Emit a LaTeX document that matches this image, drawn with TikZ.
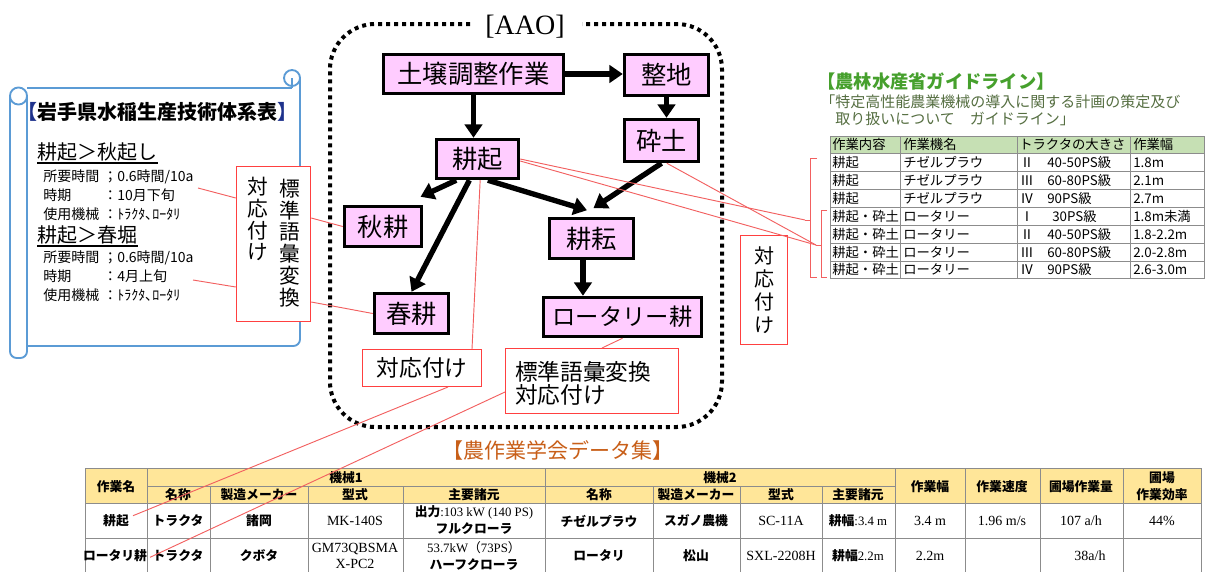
\documentclass[tikz,border=0pt]{standalone}
\usepackage{fontspec}
\setmainfont{Noto Sans CJK JP}
\newfontfamily\tms{Liberation Serif}
\usetikzlibrary{arrows.meta}
\definecolor{nodepink}{RGB}{255,204,255}
\definecolor{redline}{RGB}{242,96,96}
\definecolor{redbox}{RGB}{255,64,64}
\definecolor{scrollblue}{RGB}{91,155,213}
\definecolor{ggreen}{RGB}{70,160,45}
\definecolor{gsub}{RGB}{85,110,65}
\definecolor{hdrgreen}{RGB}{198,224,180}
\definecolor{hdryellow}{RGB}{255,230,153}
\definecolor{otitle}{RGB}{200,95,25}
\definecolor{gridgray}{RGB}{140,140,140}
\definecolor{navy}{RGB}{30,50,140}
\begin{document}
\begin{tikzpicture}[x=0.75pt,y=-0.75pt,
  fs/.style={font=\fontsize{#1pt}{#1pt}\selectfont, text height=0.88*#1pt, text depth=0.12*#1pt, inner sep=0pt},
  proc/.style={draw=black, line width=2.6pt, fill=nodepink, inner sep=0pt, fs=19},
  flow/.style={line width=4pt, -{Triangle[width=13pt,length=10pt]}},
  rl/.style={draw=redline, line width=0.7pt},
  rbox/.style={draw=redbox, line width=1.1pt, fill=white, inner sep=0pt},
  scroll/.style={draw=scrollblue, line width=1.4pt},
  dotframe/.style={line width=3pt, dash pattern=on 3pt off 3pt, rounded corners=34pt},
  vt/.style={font=\fontsize{15.5pt}{16.4pt}\selectfont, align=center, inner sep=0pt},
  grid/.style={draw=gridgray, line width=0.6pt},
  tt/.style={fs=10},
  bt/.style={font=\bfseries\fontsize{9.6pt}{12.5pt}\selectfont, inner sep=0pt, align=center},
  st/.style={font=\tms\fontsize{10.5pt}{12.5pt}\selectfont, inner sep=0pt, align=center}
]
\useasboundingbox (0,0) rectangle (1206,572);

% ---------- left scroll panel ----------
\draw[scroll] (27,88) -- (292,88);
\draw[scroll, rounded corners=5pt] (300,78) -- (300,346) -- (27,346);
\draw[scroll] (292,78) circle[radius=6pt];
\draw[scroll] (292,78) -- (292,88);
\draw[scroll, rounded corners=5pt] (10,96) -- (10,358) -- (27,358) -- (27,96);
\draw[scroll] (18.5,96) circle[radius=6.4pt];

\node[fs=15] (lpt) at (157,112) {\bfseries\textcolor{navy}{【}岩手県水稲生産技術体系表\textcolor{navy}{】}};

\node[fs=15, anchor=west] (h1) at (37,152) {耕起＞秋起し};
\draw[line width=0.9pt] ([yshift=-2.5pt]h1.base west) -- ([yshift=-2.5pt]h1.base east);
\node[fs=10.5, anchor=west] (l11) at (43,176) {所要時間};
\node[fs=10.5, anchor=west] (v11) at (103,176) {；0.6時間/10a};
\node[fs=10.5, anchor=west] (l12) at (43,195) {時期};
\node[fs=10.5, anchor=west] (v12) at (103,195) {：10月下旬};
\node[fs=10.5, anchor=west] (l13) at (43,214) {使用機械};
\node[fs=10.5, anchor=west] (v13) at (103,214) {：ﾄﾗｸﾀ､ﾛｰﾀﾘ};

\node[fs=15, anchor=west] (h2) at (37,235) {耕起＞春堀};
\draw[line width=0.9pt] ([yshift=-2.5pt]h2.base west) -- ([yshift=-2.5pt]h2.base east);
\node[fs=10.5, anchor=west] (l21) at (43,257) {所要時間};
\node[fs=10.5, anchor=west] (v21) at (103,257) {；0.6時間/10a};
\node[fs=10.5, anchor=west] (l22) at (43,276) {時期};
\node[fs=10.5, anchor=west] (v22) at (103,276) {：4月上旬};
\node[fs=10.5, anchor=west] (l23) at (43,295) {使用機械};
\node[fs=10.5, anchor=west] (v23) at (103,295) {：ﾄﾗｸﾀ､ﾛｰﾀﾘ};

% ---------- centre dotted frame ----------
\draw[dotframe] (470,24) -- (330,24) -- (330,427) -- (722,427) -- (722,24) -- (582,24);
\node[font=\tms\fontsize{21pt}{21pt}\selectfont, inner sep=0pt] (aao) at (525,27) {[AAO]};

% process nodes
\node[proc, minimum width=135pt, minimum height=29.25pt] (soil) at (473.5,74) {土壌調整作業};
\node[proc, minimum width=63pt, minimum height=30.75pt] (seichi) at (666.5,75) {整地};
\node[proc, minimum width=55.5pt, minimum height=31.5pt] (saido) at (661.5,140.5) {砕土};
\node[proc, minimum width=61.5pt, minimum height=29.25pt] (kouki) at (477.5,159) {耕起};
\node[proc, minimum width=57.75pt, minimum height=30pt] (shuko) at (383,226.5) {秋耕};
\node[proc, minimum width=55.5pt, minimum height=30pt] (shunko) at (411.5,313.5) {春耕};
\node[proc, minimum width=63pt, minimum height=30pt] (koun) at (591.5,238.5) {耕耘};
\node[proc, fs=17.5, minimum width=118.5pt, minimum height=29.25pt] (rotary) at (622.5,317) {ロータリー耕};

% arrows
\draw[flow] (soil.east) -- (soil.east -| seichi.west);
\draw[flow] (seichi.south) -- (seichi.south |- saido.north);
\draw[flow] (soil.south) -- (soil.south |- kouki.north);
\draw[flow] (kouki.225) -- ([shift={(-2pt,6pt)}]shuko.north east);
\draw[flow] (kouki.249) -- (shunko.north);
\draw[flow] (kouki.296) -- ([shift={(-3.4pt,4.9pt)}]koun.north);
\draw[flow] (saido.south) -- ([shift={(1.5pt,6.5pt)}]koun.north);
\draw[flow] ([xshift=-6.4pt]koun.south) -- ([xshift=-6.4pt]koun.south |- rotary.north);

% red label boxes
\node[rbox, minimum width=55.5pt, minimum height=116pt] (vb) at (273.5,244) {};
\node[vt] (vbt1) at (290,243) {標\\準\\語\\彙\\変\\換};
\node[vt] (vbt2) at (258,219) {対\\応\\付\\け};

\node[rbox, fs=17, minimum width=88.9pt, minimum height=27.4pt] (ta1) at (422,368) {対応付け};
\node[rbox, minimum width=129.4pt, minimum height=48.4pt] (hyo) at (592,381) {};
\node[font=\fontsize{17pt}{17.3pt}\selectfont, align=left, anchor=west, inner sep=0pt] (hyot) at (515,383) {標準語彙変換\\対応付け};

\node[rbox, minimum width=34.9pt, minimum height=81.4pt] (vb2) at (764,290) {};
\node[font=\fontsize{15pt}{17.3pt}\selectfont, align=center, inner sep=0pt] (vb2t) at (764,290.5) {対\\応\\付\\け};

% ---------- right: guideline ----------
\node[fs=13.7, text=ggreen] (rgt) at (936,82) {\bfseries 【農林水産省ガイドライン】};
\node[fs=11.25, text=gsub, anchor=west] (rgs1) at (820,102) {「特定高性能農業機械の導入に関する計画の策定及び};
\node[fs=11.25, text=gsub, anchor=west] (rgs2) at (820,119) {　取り扱いについて　ガイドライン」};

\fill[hdrgreen] (830,136) rectangle (1204,153.85);
\foreach \i in {0,...,8} \draw[grid] (830,{136+\i*17.85}) -- (1204,{136+\i*17.85});
\foreach \x in {830,900,1017,1130,1204} \draw[grid] (\x,136) -- (\x,278.8);
\node[tt, anchor=west] (gh1) at (832,144.9) {作業内容};
\node[tt, anchor=west] (gh2) at (903,144.9) {作業機名};
\node[tt, anchor=west] (gh3) at (1019,144.9) {トラクタの大きさ};
\node[tt, anchor=west] (gh4) at (1133,144.9) {作業幅};
\foreach \r/\a/\b/\c/\d/\e/\px in {1/耕起/チゼルプラウ/Ⅱ/40-50PS級/1.8m/1047,
  2/耕起/チゼルプラウ/Ⅲ/60-80PS級/2.1m/1047,
  3/耕起/チゼルプラウ/Ⅳ/90PS級/2.7m/1047,
  4/耕起・砕土/ロータリー/Ⅰ/30PS級/1.8m未満/1052,
  5/耕起・砕土/ロータリー/Ⅱ/40-50PS級/1.8-2.2m/1047,
  6/耕起・砕土/ロータリー/Ⅲ/60-80PS級/2.0-2.8m/1047,
  7/耕起・砕土/ロータリー/Ⅳ/90PS級/2.6-3.0m/1047}{
  \pgfmathsetmacro{\yy}{136+17.85*(\r+0.5)}
  \node[tt, anchor=west] (ga\r) at (832,\yy) {\a};
  \node[tt, anchor=west] (gb\r) at (903,\yy) {\b};
  \node[tt, anchor=west] (gc\r) at (1020,\yy) {\c};
  \node[tt, anchor=west] (gd\r) at (\px,\yy) {\d};
  \node[tt, anchor=west] (ge\r) at (1133,\yy) {\e};
}

% brackets
\draw[rl] (817,158) -- (810,158) -- (810,277) -- (817,277);
\draw[rl] (827,210) -- (821,210) -- (821,277) -- (827,277);
\coordinate (tipA) at (805,220);
\coordinate (tipB) at (816,245);
\draw[rl] (810,220) -- (tipA);
\draw[rl] (821,245) -- (tipB);

% ---------- bottom: data table ----------
\node[fs=15.75, text=otitle] (btitle) at (558,451) {【農作業学会データ集】};
\fill[hdryellow] (85,468) rectangle (1201,503);
\draw[grid] (85,468) -- (1201,468);
\draw[grid] (147,486) -- (895,486);
\draw[grid] (85,503) -- (1201,503);
\draw[grid] (85,538) -- (1201,538);
\foreach \x in {85,147,545,895,965,1040,1123,1201} \draw[grid] (\x,468) -- (\x,572);
\foreach \x in {210,308,403,653,740,822} \draw[grid] (\x,486) -- (\x,572);

\node[bt] (t00) at (116,487) {作業名};
\node[bt] (t01) at (346,478) {機械1};
\node[bt] (t02) at (720,478) {機械2};
\node[bt] (t03) at (178,495) {名称};
\node[bt] (t04) at (259,495) {製造メーカー};
\node[bt] (t05) at (355,495) {型式};
\node[bt] (t06) at (474,495) {主要諸元};
\node[bt] (t07) at (599,495) {名称};
\node[bt] (t08) at (696,495) {製造メーカー};
\node[bt] (t09) at (781,495) {型式};
\node[bt] (t10) at (858,495) {主要諸元};
\node[bt] (t11) at (930,487) {作業幅};
\node[bt] (t12) at (1002,487) {作業速度};
\node[bt] (t13) at (1081,487) {圃場作業量};
\node[bt] (t14) at (1162,486) {圃場\\作業効率};

\node[bt] (bk1) at (116,521) {耕起};
\node[bt] (r12) at (178,521) {トラクタ};
\node[bt] (r13) at (259,521) {諸岡};
\node[st] (r14) at (355,521) {MK-140S};
\node[bt] (r15) at (474,520) {出力{\tms\mdseries :103 kW (140 PS)}\\フルクローラ};
\node[bt] (r16) at (599,521) {チゼルプラウ};
\node[bt] (r17) at (696,521) {スガノ農機};
\node[st] (r18) at (781,521) {SC-11A};
\node[bt] (r19) at (858,521) {耕幅{\tms\mdseries :3.4 m}};
\node[st] (r1a) at (930,521) {3.4 m};
\node[st] (r1b) at (1002,521) {1.96 m/s};
\node[st] (r1c) at (1081,521) {107 a/h};
\node[st] (r1d) at (1162,521) {44\%};

\node[bt] (bk2) at (115,556) {ロータリ耕};
\node[bt] (r22) at (178,556) {トラクタ};
\node[bt] (r23) at (259,556) {クボタ};
\node[st] (r24) at (355,556) {GM73QBSMA\\X-PC2};
\node[bt] (r25) at (474,556) {{\tms\mdseries 53.7kW}{\mdseries（}{\tms\mdseries 73PS}{\mdseries ）}\\ハーフクローラ};
\node[bt] (r26) at (599,556) {ロータリ};
\node[bt] (r27) at (696,556) {松山};
\node[st] (r28) at (781,556) {SXL-2208H};
\node[bt] (r29) at (858,556) {耕幅{\tms\mdseries 2.2m}};
\node[st] (r2a) at (930,556) {2.2m};
\node[st] (r2c) at (1090,556) {38a/h};

% ---------- red correspondence lines ----------
\coordinate (lp1) at (198,188);
\coordinate (lp2) at (193,280);
\draw[rl] (lp1) -- ([yshift=34.5pt]vb.west);
\draw[rl] (lp2) -- ([yshift=-32.25pt]vb.west);
\draw[rl] ([yshift=19.5pt]vb.east) -- (shuko.west);
\draw[rl] ([yshift=-43.5pt]vb.east) -- (shunko.west);
\draw[rl] (kouki.east) -- (tipA);
\draw[rl] ([yshift=-1.5pt]kouki.east) -- (tipB);
\draw[rl] ([xshift=4pt]saido.south) -- (tipB);
\draw[rl] ([xshift=2pt]kouki.south) -- ([xshift=37.5pt]ta1.north);
\draw[rl] (rotary.south) -- ([xshift=7.5pt]hyo.north);
\draw[rl] ([xshift=19.5pt]ta1.south) -- ([shift={(3pt,4pt)}]bk1.east);
\draw[rl] ([yshift=-8.25pt]hyo.west) -- ([shift={(2pt,-1pt)}]bk2.east);
\end{tikzpicture}
\end{document}
